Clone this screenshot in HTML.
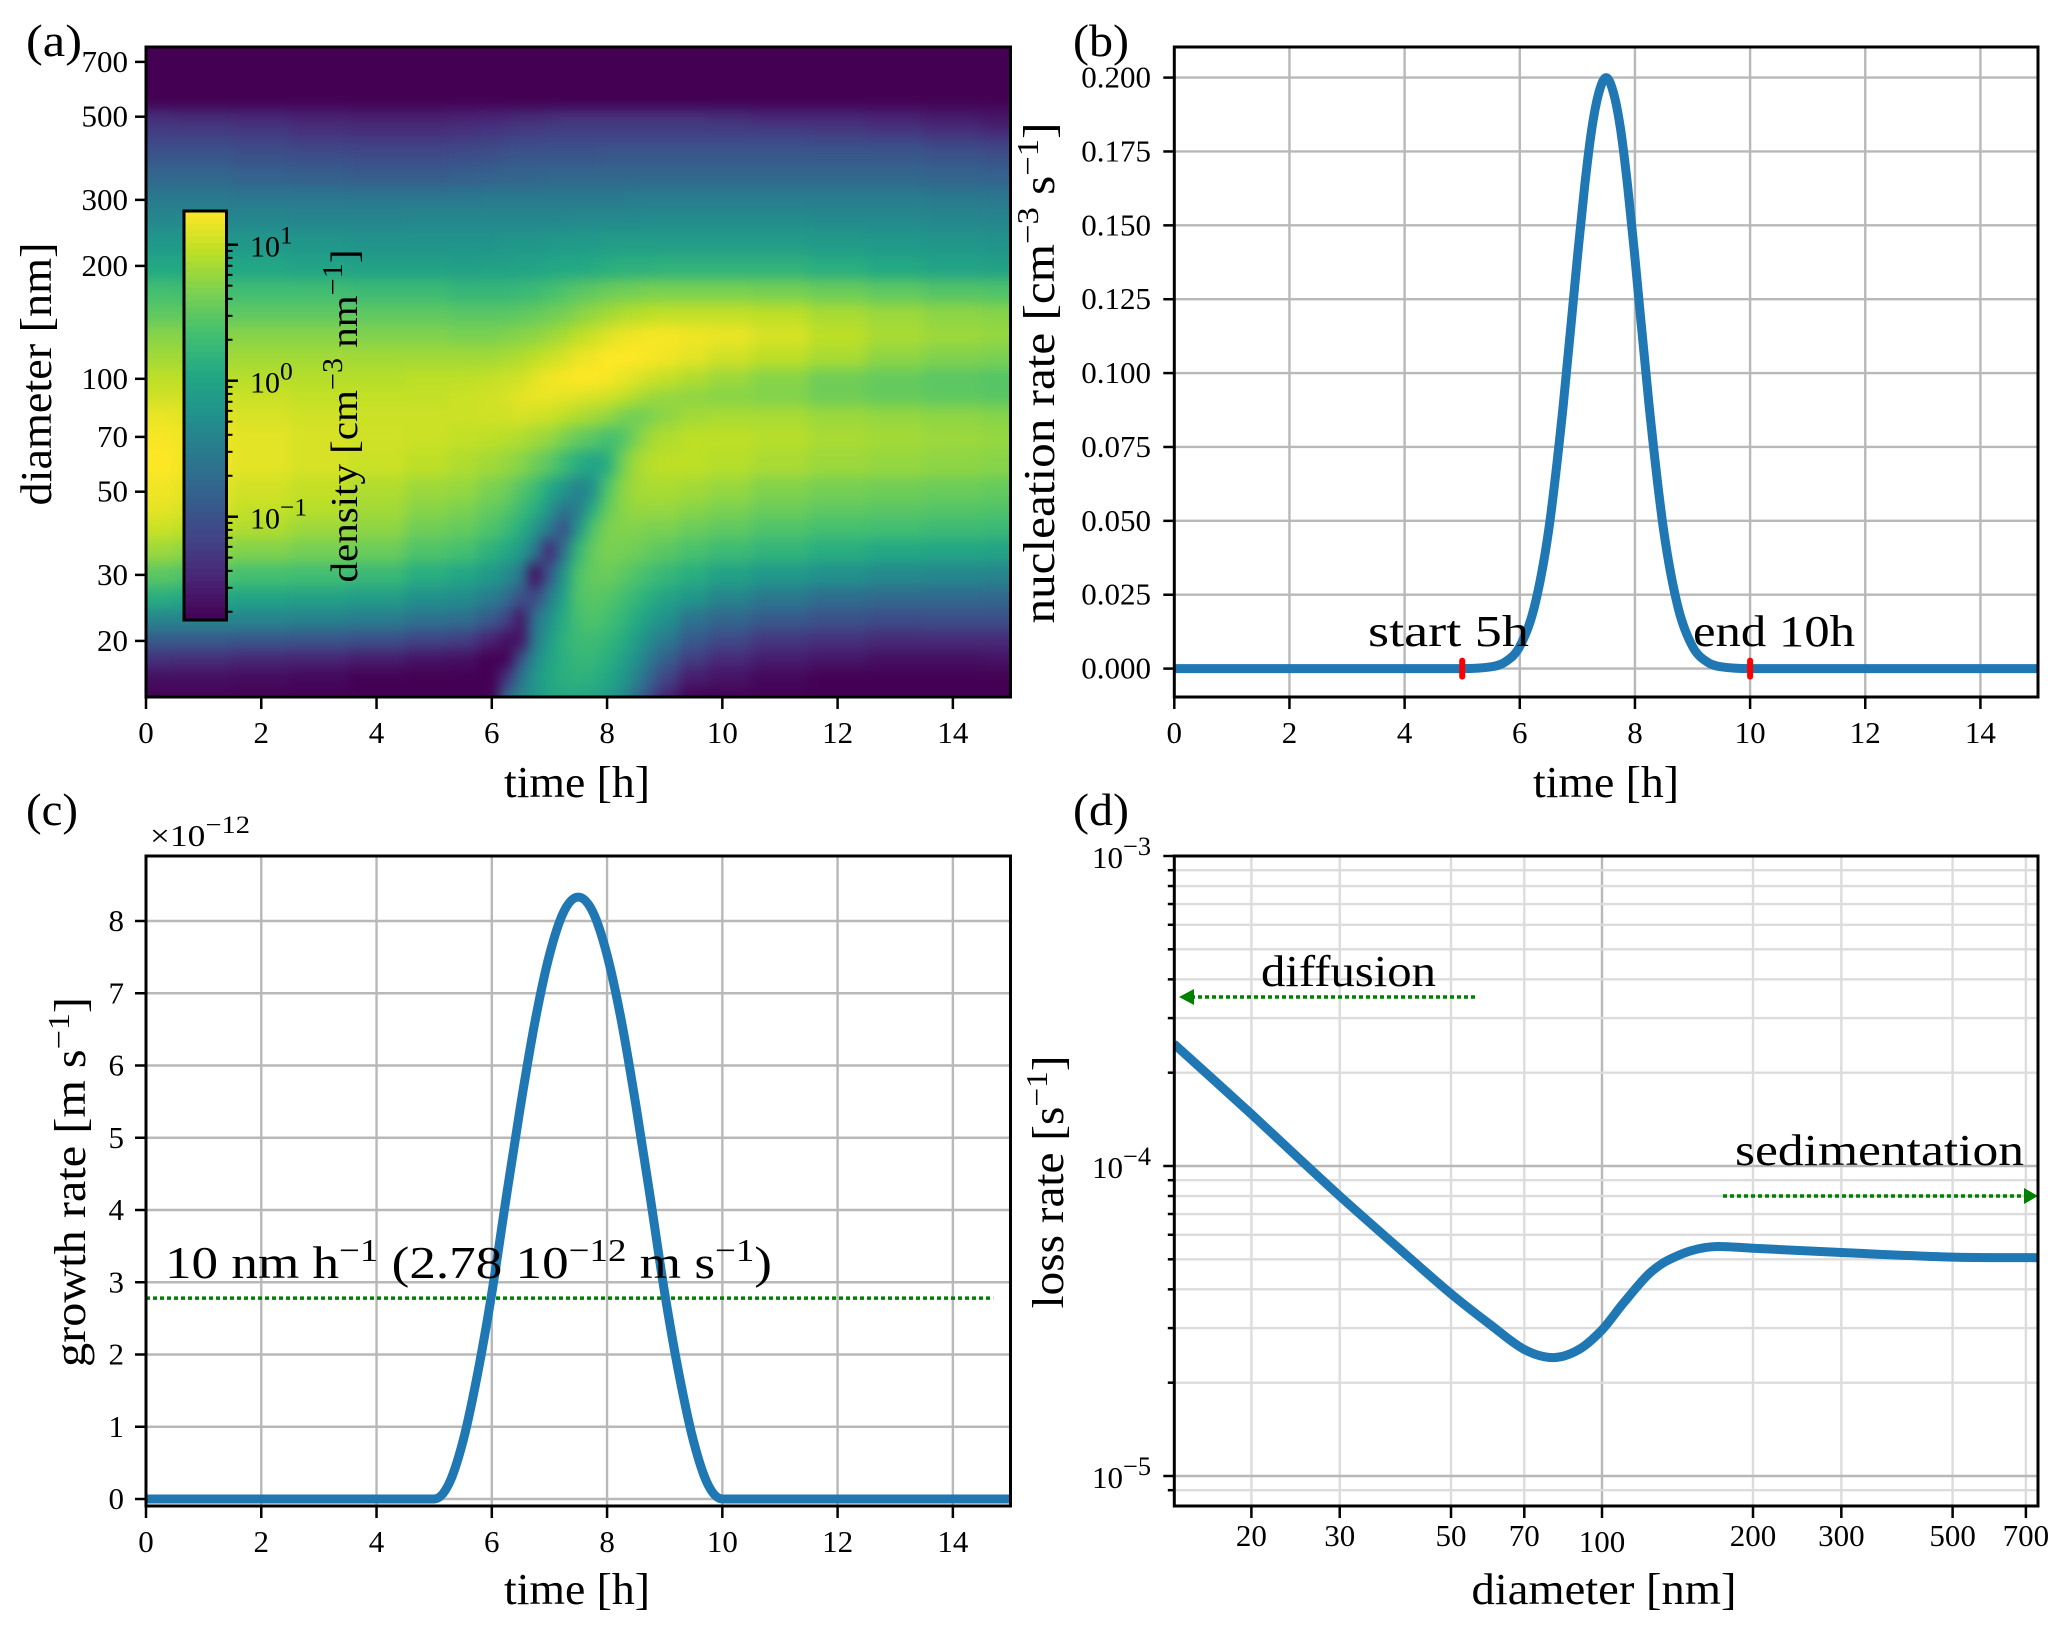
<!DOCTYPE html>
<html lang="en">
<head>
<meta charset="utf-8">
<title>Aerosol nucleation figure</title>
<style>
html,body{margin:0;padding:0;background:#fff;}
svg{display:block;}
text{font-family:"Liberation Serif",serif;fill:#000;}
.axl{font-size:44px;}
.pl{font-size:46px;}
.note{font-size:46px;}
</style>
</head>
<body>
<svg id="figure" xmlns="http://www.w3.org/2000/svg" width="2067" height="1634" viewBox="0 0 2067 1634">
<defs>
<clipPath id="clip-a"><rect x="146" y="47" width="864.5" height="650"/></clipPath>
<clipPath id="clip-b"><rect x="1174.3" y="47" width="863.7" height="650"/></clipPath>
<clipPath id="clip-c"><rect x="146" y="856" width="864.5" height="650"/></clipPath>
<clipPath id="clip-d"><rect x="1174.3" y="856" width="863.7" height="650"/></clipPath>
<filter id="heat-smooth" filterUnits="userSpaceOnUse" x="60" y="-40" width="1040" height="820" color-interpolation-filters="sRGB"><feGaussianBlur stdDeviation="6 7"/></filter>
</defs>
<rect x="0" y="0" width="2067" height="1634" fill="#fff"/>

<g id="panel-a">
  <g clip-path="url(#clip-a)"><g id="heat-cells" filter="url(#heat-smooth)"></g></g>
  <rect x="146" y="47" width="864.5" height="650" fill="none" stroke="#000" stroke-width="3"/>
  <g id="a-ticks"></g>
  <g id="colorbar"></g>
  <text class="axl" transform="translate(357,416) rotate(-90)" text-anchor="middle" style="font-size:38px" textLength="333" lengthAdjust="spacingAndGlyphs">density [cm<tspan dy="-15" font-size="28">−3</tspan><tspan dy="15"> nm</tspan><tspan dy="-15" font-size="28">−1</tspan><tspan dy="15">]</tspan></text>
  <text class="axl" transform="translate(51,374) rotate(-90)" text-anchor="middle" textLength="263" lengthAdjust="spacingAndGlyphs">diameter [nm]</text>
  <text class="axl" x="577" y="797" text-anchor="middle" textLength="146" lengthAdjust="spacingAndGlyphs">time [h]</text>
  <text class="pl" x="26" y="56" textLength="56" lengthAdjust="spacingAndGlyphs">(a)</text>
</g>

<g id="panel-b">
  <g id="b-grid"></g>
  <g clip-path="url(#clip-b)"><path id="b-line" fill="none" stroke="#1f77b4" stroke-width="9" stroke-linejoin="round"/></g>
  <g id="b-markers"></g>
  <rect x="1174.3" y="47" width="863.7" height="650" fill="none" stroke="#000" stroke-width="3"/>
  <g id="b-ticks"></g>
  <text class="note" x="1368" y="646" textLength="161" lengthAdjust="spacingAndGlyphs" style="font-size:44px">start 5h</text>
  <text class="note" x="1693" y="646" textLength="162" lengthAdjust="spacingAndGlyphs" style="font-size:44px">end 10h</text>
  <text class="axl" transform="translate(1054,373) rotate(-90)" text-anchor="middle" textLength="501" lengthAdjust="spacingAndGlyphs">nucleation rate [cm<tspan dy="-16" font-size="31">−3</tspan><tspan dy="16"> s</tspan><tspan dy="-16" font-size="31">−1</tspan><tspan dy="16">]</tspan></text>
  <text class="axl" x="1606" y="797" text-anchor="middle" textLength="146" lengthAdjust="spacingAndGlyphs">time [h]</text>
  <text class="pl" x="1073" y="56" textLength="56" lengthAdjust="spacingAndGlyphs">(b)</text>
</g>

<g id="panel-c">
  <g id="c-grid"></g>
  <line id="c-ref" stroke="#008000" stroke-width="3.5" stroke-dasharray="4 3"/>
  <g clip-path="url(#clip-c)"><path id="c-line" fill="none" stroke="#1f77b4" stroke-width="9" stroke-linejoin="round"/></g>
  <rect x="146" y="856" width="864.5" height="650" fill="none" stroke="#000" stroke-width="3"/>
  <g id="c-ticks"></g>
  <text x="150" y="846" style="font-size:31px" textLength="100" lengthAdjust="spacingAndGlyphs">×10<tspan dy="-13" font-size="25">−12</tspan></text>
  <text class="note" x="165" y="1278" textLength="607" lengthAdjust="spacingAndGlyphs">10 nm h<tspan dy="-17" font-size="32">−1</tspan><tspan dy="17"> (2.78 10</tspan><tspan dy="-17" font-size="32">−12</tspan><tspan dy="17"> m s</tspan><tspan dy="-17" font-size="32">−1</tspan><tspan dy="17">)</tspan></text>
  <text class="axl" transform="translate(85,1182) rotate(-90)" text-anchor="middle" textLength="370" lengthAdjust="spacingAndGlyphs">growth rate [m s<tspan dy="-16" font-size="31">−1</tspan><tspan dy="16">]</tspan></text>
  <text class="axl" x="577" y="1604" text-anchor="middle" textLength="146" lengthAdjust="spacingAndGlyphs">time [h]</text>
  <text class="pl" x="26" y="825" textLength="52" lengthAdjust="spacingAndGlyphs">(c)</text>
</g>

<g id="panel-d">
  <g id="d-grid"></g>
  <g clip-path="url(#clip-d)"><path id="d-line" fill="none" stroke="#1f77b4" stroke-width="9" stroke-linejoin="round"/></g>
  <line x1="1475" y1="997" x2="1188" y2="997" stroke="#008000" stroke-width="3.5" stroke-dasharray="4 3"/>
  <polygon points="1179,997 1194,989 1194,1005" fill="#008000"/>
  <line x1="1723" y1="1196" x2="2026" y2="1196" stroke="#008000" stroke-width="3.5" stroke-dasharray="4 3"/>
  <polygon points="2038,1196 2024,1188 2024,1204" fill="#008000"/>
  <rect x="1174.3" y="856" width="863.7" height="650" fill="none" stroke="#000" stroke-width="3"/>
  <g id="d-ticks"></g>
  <text class="note" x="1261" y="986" textLength="175" lengthAdjust="spacingAndGlyphs" style="font-size:44px">diffusion</text>
  <text class="note" x="1735" y="1165" textLength="289" lengthAdjust="spacingAndGlyphs" style="font-size:44px">sedimentation</text>
  <text class="axl" transform="translate(1063,1182) rotate(-90)" text-anchor="middle" textLength="253" lengthAdjust="spacingAndGlyphs">loss rate [s<tspan dy="-16" font-size="31">−1</tspan><tspan dy="16">]</tspan></text>
  <text class="axl" x="1604" y="1604" text-anchor="middle" textLength="265" lengthAdjust="spacingAndGlyphs">diameter [nm]</text>
  <text class="pl" x="1073" y="825" textLength="56" lengthAdjust="spacingAndGlyphs">(d)</text>
</g>
</svg>

<script>
// ---------- chart data ----------
const timeTicks = [0, 2, 4, 6, 8, 10, 12, 14];
const diameterTicks = [20, 30, 50, 70, 100, 200, 300, 500, 700];
const nucleationTicks = [0, 0.025, 0.05, 0.075, 0.1, 0.125, 0.15, 0.175, 0.2];
const nucleationTickLabels = ['0.000', '0.025', '0.050', '0.075', '0.100', '0.125', '0.150', '0.175', '0.200'];
const growthTicks = [0, 1, 2, 3, 4, 5, 6, 7, 8];
const lossDecades = [-5, -4, -3];
const lossMinorMultipliers = [2, 3, 4, 5, 6, 7, 8, 9];
const colorbarDecades = [-1, 0, 1];

const nucleationTimes = [0, 3, 5, 5.5, 5.75, 6, 6.25, 6.5, 6.75, 7, 7.125, 7.25, 7.375, 7.5, 7.625, 7.75, 7.875, 8, 8.25, 8.5, 8.75, 9, 9.25, 9.5, 10, 12, 15];
const nucleationValues = [0, 0, 0, 0.0006, 0.0023, 0.0075, 0.0206, 0.0466, 0.0882, 0.139, 0.163, 0.1826, 0.195, 0.2, 0.195, 0.1826, 0.163, 0.139, 0.0882, 0.0466, 0.0206, 0.0075, 0.0023, 0.0006, 0, 0, 0];
const eventTimes = [5, 10];

const growthTimes = [0, 3, 5, 5.25, 5.5, 5.75, 6, 6.25, 6.5, 6.75, 7, 7.25, 7.5, 7.75, 8, 8.25, 8.5, 8.75, 9, 9.25, 9.5, 9.75, 10, 12, 15];
const growthValues = [0, 0, 0, 0.2, 0.8, 1.72, 2.85, 4.17, 5.45, 6.61, 7.53, 8.13, 8.33, 8.13, 7.53, 6.61, 5.45, 4.17, 2.85, 1.72, 0.8, 0.2, 0, 0, 0];
const referenceGrowth = 2.78;

const lossDiameters = [14, 16, 20, 25, 30, 40, 50, 60, 70, 80, 90, 100, 110, 123, 132, 141, 150, 160, 171, 200, 300, 500, 740];
const lossValues = [2.48e-4, 2.04e-4, 1.47e-4, 1.05e-4, 8.0e-5, 5.3e-5, 3.87e-5, 3.07e-5, 2.56e-5, 2.41e-5, 2.56e-5, 2.96e-5, 3.59e-5, 4.43e-5, 4.85e-5, 5.12e-5, 5.32e-5, 5.45e-5, 5.5e-5, 5.43e-5, 5.26e-5, 5.08e-5, 5.06e-5];

// heatmap: rows = diameters (nm), columns = times (h); cell value = position on the log colour scale, 0-100
const heatDiameters = [14, 16, 18, 20, 23, 26, 30, 35, 40, 45, 50, 60, 70, 80, 90, 100, 115, 130, 150, 170, 200, 230, 270, 300, 350, 400, 450, 490, 560, 750];
const heatTimes = [0, 1, 2, 3, 4, 5, 5.5, 6, 6.25, 6.5, 6.75, 7, 7.25, 7.5, 7.75, 8, 8.25, 8.5, 8.75, 9, 9.5, 10, 11, 12, 13, 14, 15];
const heatLevels = [
[0,4,14,28,45,62,74,85,92,96,98,100,99,97,93,90,86,82,75,70,60,53,46,41,33,26,19,14,0,0],
[0,4,13,28,45,60,72,83,90,94,96,98,98,96,93,90,86,82,75,69,60,53,46,41,33,26,19,13,0,0],
[0,3,11,27,45,58,70,81,88,91,93,96,96,94,92,89,86,82,75,69,59,53,46,40,31,24,18,12,0,0],
[0,2,10,26,44,57,69,79,85,89,91,94,94,93,91,89,86,82,75,69,58,52,45,40,30,23,16,10,0,0],
[0,0,8,24,42,55,67,77,83,86,88,92,93,92,91,89,86,81,75,68,57,51,45,40,29,22,15,9,0,0],
[0,0,5,20,38,50,62,72,78,82,85,90,92,92,91,90,86,81,75,68,57,51,46,40,29,22,15,9,0,0],
[0,0,4,18,36,48,59,70,76,80,84,88,91,92,92,90,86,80,74,66,56,51,46,40,30,23,16,10,0,0],
[0,0,0,10,28,42,54,64,72,76,80,86,90,93,93,91,86,80,74,66,57,51,46,41,31,24,17,11,0,0],
[35,15,0,4,20,36,48,60,68,73,78,84,89,93,94,92,87,81,74,66,57,52,46,41,32,25,18,12,0,0],
[45,38,25,5,6,24,40,54,62,68,73,82,88,94,96,93,88,82,75,67,58,52,46,41,32,26,19,13,0,0],
[52,52,48,40,38,22,4,40,52,62,68,78,86,93,97,96,90,83,76,68,58,52,46,41,32,26,19,13,0,0],
[58,60,58,55,50,42,28,12,40,52,60,74,84,92,97,98,92,85,78,70,59,53,46,41,33,26,20,14,0,0],
[60,63,63,64,62,58,52,38,24,38,52,68,80,90,96,99,94,87,79,72,60,54,46,41,33,26,20,15,0,0],
[60,64,66,68,70,72,72,66,52,42,44,62,76,88,95,100,97,90,82,74,60,54,47,41,33,26,20,15,0,0],
[58,63,66,68,72,74,76,76,72,62,50,58,74,86,94,100,98,92,84,75,61,54,47,41,33,26,20,15,0,0],
[55,60,63,66,70,73,77,80,80,76,72,62,70,84,93,99,100,95,86,77,62,55,47,41,33,27,20,15,0,0],
[48,54,58,62,66,70,75,79,81,82,82,78,72,80,91,97,100,97,88,78,63,55,47,41,33,27,20,15,0,0],
[35,44,50,55,61,66,72,78,81,84,86,86,80,78,88,95,100,98,89,79,63,55,47,42,33,27,20,15,0,0],
[22,32,40,47,55,62,69,76,80,84,87,89,86,80,85,93,99,99,90,80,63,55,48,42,33,27,20,15,0,0],
[8,20,30,40,50,58,66,74,80,84,87,90,88,83,84,91,98,99,91,80,64,55,48,42,33,27,20,15,0,0],
[0,8,18,28,38,52,62,71,77,82,86,90,90,86,83,88,96,98,91,80,64,55,48,42,33,27,20,15,0,0],
[0,5,12,22,33,45,57,68,75,80,84,89,90,87,82,85,93,97,91,80,64,55,48,42,33,27,20,14,0,0],
[0,2,8,16,28,40,53,65,72,77,81,87,89,87,81,82,90,94,90,79,64,55,48,42,33,27,20,12,0,0],
[0,0,6,14,25,36,50,62,70,75,79,85,87,85,78,78,87,90,87,77,62,54,47,42,33,27,19,12,0,0],
[0,0,4,12,23,34,47,60,69,74,78,84,86,84,76,76,83,87,85,75,60,53,47,42,33,27,18,10,0,0],
[0,0,4,12,24,34,46,59,68,73,77,83,85,83,75,74,81,85,83,73,58,52,46,41,32,25,16,8,0,0],
[0,0,5,12,24,33,45,58,67,72,76,82,84,82,74,73,80,84,82,72,57,51,45,40,31,24,14,6,0,0]
];
const viridisStops = ['#440154','#482475','#414487','#355f8d','#2a788e','#21918c','#22a884','#44bf70','#7ad151','#bddf26','#fde725'];

// ---------- axis functions ----------
const xTimeLeft = t => 146 + t * (864.5 / 15);
const xTimeRight = t => 1174.3 + t * (863.7 / 15);
const yDiameter = d => 378.8 - 375 * (Math.log10(d) - 2);
const yNucleation = v => 668.6 - v * (591 / 0.2);
const yGrowth = v => 1499 - v * 72.25;
const xDiameter = d => 1602 + 501.6 * (Math.log10(d) - 2);
const yLoss = v => 1166 - 310 * (Math.log10(v) + 4);
const yColorbar = v => 380.7 - 136 * Math.log10(v);

const NS = 'http://www.w3.org/2000/svg';
function node(tag, parent, attrs) {
  const el = document.createElementNS(NS, tag);
  for (const k in attrs) el.setAttribute(k, attrs[k]);
  parent.appendChild(el);
  return el;
}
function byId(id) { return document.getElementById(id); }

function viridis(level) {
  const p = Math.max(0, Math.min(100, level)) / 10;
  const i = Math.min(9, Math.floor(p));
  const f = p - i;
  const a = viridisStops[i], b = viridisStops[i + 1];
  const ch = s => [1, 3, 5].map(n => parseInt(s.substr(n, 2), 16));
  const ca = ch(a), cb = ch(b);
  return 'rgb(' + ca.map((v, n) => Math.round(v + (cb[n] - v) * f)).join(',') + ')';
}

// cubic path through the plotted points; flat stretches keep a zero tangent so they do not overshoot
function smoothPath(xs, ys) {
  const n = xs.length;
  const m = new Array(n).fill(0);
  m[0] = (ys[1] - ys[0]) / (xs[1] - xs[0]);
  m[n - 1] = (ys[n - 1] - ys[n - 2]) / (xs[n - 1] - xs[n - 2]);
  for (let i = 1; i < n - 1; i++) {
    const flat = Math.abs(ys[i] - ys[i - 1]) < 1e-9 || Math.abs(ys[i + 1] - ys[i]) < 1e-9;
    m[i] = flat ? 0 : (ys[i + 1] - ys[i - 1]) / (xs[i + 1] - xs[i - 1]);
  }
  let d = 'M' + xs[0].toFixed(2) + ' ' + ys[0].toFixed(2);
  for (let i = 0; i < n - 1; i++) {
    const h = xs[i + 1] - xs[i];
    d += 'C' + (xs[i] + h / 3).toFixed(2) + ' ' + (ys[i] + m[i] * h / 3).toFixed(2) + ' ' +
         (xs[i + 1] - h / 3).toFixed(2) + ' ' + (ys[i + 1] - m[i + 1] * h / 3).toFixed(2) + ' ' +
         xs[i + 1].toFixed(2) + ' ' + ys[i + 1].toFixed(2);
  }
  return d;
}

// ---------- generic ticks ----------
function xTick(parent, x, yAxis) {
  const el = node('line', parent, {x1: x, x2: x, y1: yAxis, y2: yAxis + 12, stroke: '#000', 'stroke-width': 2.5});
  
  
}
function yTick(parent, xAxis, y, len) {
  const el = node('line', parent, {x1: xAxis - len, x2: xAxis, y1: y, y2: y, stroke: '#000', 'stroke-width': 2.5});
  
  
}
function xTickLabel(parent, x, y, str) {
  const el = node('text', parent, {x: x, y: y, 'text-anchor': 'middle', 'font-size': 31});
  
  
  el.textContent = str;
}
function yTickLabel(parent, x, y, str) {
  const el = node('text', parent, {x: x, y: y + 10, 'text-anchor': 'end', 'font-size': 31});
  
  
  el.textContent = str;
}
function gridV(parent, x, y1, y2, color) {
  const el = node('line', parent, {x1: x, x2: x, y1: y1, y2: y2, stroke: color, 'stroke-width': 2.4});
  
  
}
function gridH(parent, y, x1, x2, color) {
  const el = node('line', parent, {x1: x1, x2: x2, y1: y, y2: y, stroke: color, 'stroke-width': 2.4});
  
  
}
function powerLabel(parent, x, y, exponent, anchor, size) {
  const el = node('text', parent, {x: x, y: y, 'text-anchor': anchor, 'font-size': size});
  
  
  el.appendChild(document.createTextNode('10'));
  const sup = node('tspan', el, {dy: -13, 'font-size': size * 0.85});
  
  
  sup.textContent = String(exponent).replace('-', '−');
}

// ---------- panel a ----------
(function heatmap() {
  const g = byId('heat-cells');
  const tEdge = i => i < 0 ? -1 : i >= heatTimes.length - 1 ? 16 : (heatTimes[i] + heatTimes[i + 1]) / 2;
  const dEdge = j => j < 0 ? 10 : j >= heatDiameters.length - 1 ? 1100 : Math.sqrt(heatDiameters[j] * heatDiameters[j + 1]);
  for (let i = 0; i < heatTimes.length; i++) {
    const x0 = xTimeLeft(tEdge(i - 1)), x1 = xTimeLeft(tEdge(i));
    for (let j = 0; j < heatDiameters.length; j++) {
      const y0 = yDiameter(dEdge(j)), y1 = yDiameter(dEdge(j - 1));
      const cell = node('rect', g, {x: x0.toFixed(1), y: y0.toFixed(1), width: (x1 - x0 + 0.6).toFixed(1), height: (y1 - y0 + 0.6).toFixed(1), fill: viridis(heatLevels[i][j])});
      
      
    }
  }
  const ticks = byId('a-ticks');
  timeTicks.forEach(t => {
    xTick(ticks, xTimeLeft(t), 697);
    xTickLabel(ticks, xTimeLeft(t), 743, String(t));
  });
  diameterTicks.forEach(d => {
    yTick(ticks, 146, yDiameter(d), 11);
    yTickLabel(ticks, 128, yDiameter(d), String(d));
  });
})();

(function colorbar() {
  const g = byId('colorbar');
  const steps = 64;
  for (let s = 0; s < steps; s++) {
    const band = node('rect', g, {x: 184.5, y: (211 + (409 * s) / steps).toFixed(1), width: 41, height: (409 / steps + 0.6).toFixed(1), fill: viridis(100 - (s + 0.5) * 100 / steps)});
    
    
  }
  const frame = node('rect', g, {x: 184, y: 211, width: 42.5, height: 409, fill: 'none', stroke: '#000', 'stroke-width': 3});
  
  
  colorbarDecades.forEach(n => {
    const y = yColorbar(Math.pow(10, n));
    const tick = node('line', g, {x1: 226, x2: 238, y1: y, y2: y, stroke: '#000', 'stroke-width': 2.5});
    
    
    powerLabel(g, 250, y + 12, n, 'start', 30);
  });
  [-2, -1, 0].forEach(n => {
    lossMinorMultipliers.forEach(m => {
      const y = yColorbar(m * Math.pow(10, n));
      const minor = node('line', g, {x1: 226, x2: 232.5, y1: y, y2: y, stroke: '#000', 'stroke-width': 2});
      
      
    });
  });
})();

// ---------- panel b ----------
(function panelB() {
  const grid = byId('b-grid'), ticks = byId('b-ticks');
  timeTicks.forEach(t => {
    gridV(grid, xTimeRight(t), 47, 697, '#b8b8b8');
    xTick(ticks, xTimeRight(t), 697);
    xTickLabel(ticks, xTimeRight(t), 743, String(t));
  });
  nucleationTicks.forEach((v, i) => {
    gridH(grid, yNucleation(v), 1174.3, 2038, '#b8b8b8');
    yTick(ticks, 1174.3, yNucleation(v), 11);
    yTickLabel(ticks, 1151, yNucleation(v), nucleationTickLabels[i]);
  });
  byId('b-line').setAttribute('d', smoothPath(nucleationTimes.map(xTimeRight), nucleationValues.map(yNucleation)));
  eventTimes.forEach(t => {
    const m = node('line', byId('b-markers'), {x1: xTimeRight(t), x2: xTimeRight(t), y1: yNucleation(0) - 8, y2: yNucleation(0) + 8, stroke: '#ff0000', 'stroke-width': 6, 'stroke-linecap': 'round'});
    
    
  });
})();

// ---------- panel c ----------
(function panelC() {
  const grid = byId('c-grid'), ticks = byId('c-ticks');
  timeTicks.forEach(t => {
    gridV(grid, xTimeLeft(t), 856, 1506, '#b8b8b8');
    xTick(ticks, xTimeLeft(t), 1506);
    xTickLabel(ticks, xTimeLeft(t), 1552, String(t));
  });
  growthTicks.forEach(v => {
    gridH(grid, yGrowth(v), 146, 1010.5, '#b8b8b8');
    yTick(ticks, 146, yGrowth(v), 11);
    yTickLabel(ticks, 124, yGrowth(v), String(v));
  });
  const ref = byId('c-ref');
  ref.setAttribute('x1', xTimeLeft(0));
  ref.setAttribute('x2', xTimeLeft(14.7));
  ref.setAttribute('y1', yGrowth(referenceGrowth));
  ref.setAttribute('y2', yGrowth(referenceGrowth));
  byId('c-line').setAttribute('d', smoothPath(growthTimes.map(xTimeLeft), growthValues.map(yGrowth)));
})();

// ---------- panel d ----------
(function panelD() {
  const grid = byId('d-grid'), ticks = byId('d-ticks');
  diameterTicks.forEach(d => {
    gridV(grid, xDiameter(d), 856, 1506, d === 100 ? '#b8b8b8' : '#dcdcdc');
    xTick(ticks, xDiameter(d), 1506);
    xTickLabel(ticks, xDiameter(d), d === 100 ? 1552 : 1546, String(d));
  });
  [-6, -5, -4].forEach(n => {
    lossMinorMultipliers.forEach(m => {
      const v = m * Math.pow(10, n);
      const y = yLoss(v);
      if (y > 1506 || y < 856) return;
      gridH(grid, y, 1174.3, 2038, '#dcdcdc');
      yTick(ticks, 1174.3, y, 6.5);
    });
  });
  lossDecades.forEach(n => {
    const y = yLoss(Math.pow(10, n));
    gridH(grid, y, 1174.3, 2038, '#b8b8b8');
    yTick(ticks, 1174.3, y, 11);
    powerLabel(ticks, 1151, y + 12, n, 'end', 31);
  });
  byId('d-line').setAttribute('d', smoothPath(lossDiameters.map(xDiameter), lossValues.map(yLoss)));
})();
</script>
</body>
</html>
